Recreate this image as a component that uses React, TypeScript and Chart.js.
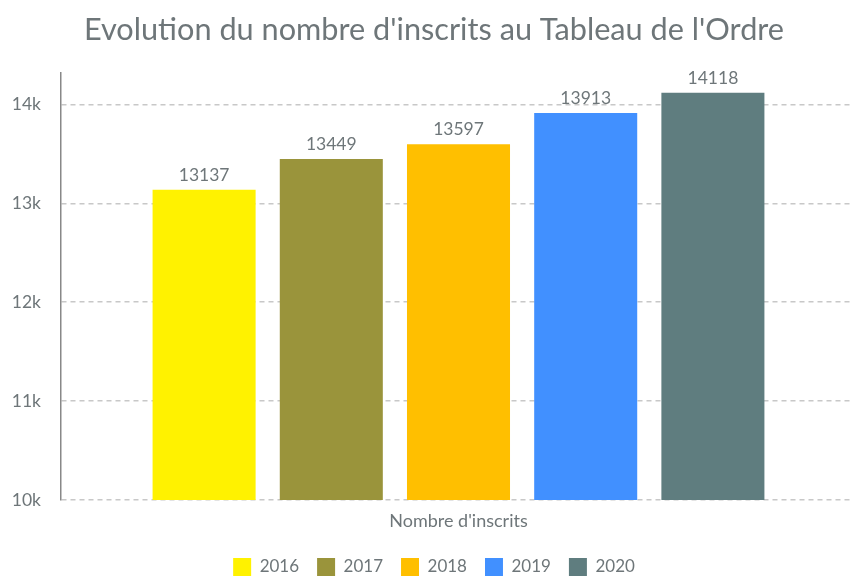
import React, { useEffect, useRef } from "react";
import { Chart, registerables } from "chart.js";

Chart.register(...registerables);

const categories = ["Nombre d'inscrits"];
const years = ["2016", "2017", "2018", "2019", "2020"];
const values = [13137, 13449, 13597, 13913, 14118];
const colors = ["#FFF200", "#9A943B", "#FFBF00", "#4190FF", "#5F7D7F"];
const yTicks = [10000, 11000, 12000, 13000, 14000];
const titleText = "Evolution du nombre d'inscrits au Tableau de l'Ordre";

const TEXT = "#6e7679";
const FONT = "Lato";

const valueLabels = {
  id: "valueLabels",
  afterDatasetsDraw(chart: any) {
    const ctx = chart.ctx;
    ctx.save();
    ctx.font = `17.5px ${FONT}`;
    ctx.fillStyle = TEXT;
    ctx.textAlign = "center";
    ctx.textBaseline = "alphabetic";
    chart.data.datasets.forEach((ds: any, i: number) => {
      const meta = chart.getDatasetMeta(i);
      meta.data.forEach((bar: any, j: number) => {
        ctx.fillText(String(ds.data[j]), bar.x, bar.y - 9);
      });
    });
    ctx.restore();
  },
};

export default function App() {
  const ref = useRef<HTMLCanvasElement>(null);
  useEffect(() => {
    document.body.style.overflow = "hidden";
    const chart = new Chart(ref.current!, {
      type: "bar",
      data: {
        labels: categories,
        datasets: years.map((y, i) => ({
          label: y,
          data: [values[i]],
          backgroundColor: colors[i],
          borderWidth: 0,
          barPercentage: 0.81,
          categoryPercentage: 0.8,
        })),
      },
      options: {
        responsive: false,
        animation: false,
        layout: { padding: { left: 12, right: 10, top: 8, bottom: 0 } },
        plugins: {
          title: {
            display: true,
            text: titleText,
            color: TEXT,
            font: { family: FONT, size: 30.7, weight: "normal" },
            padding: { top: 4, bottom: 24 },
          },
          legend: {
            position: "bottom",
            labels: {
              color: TEXT,
              font: { family: FONT, size: 17 },
              boxWidth: 18,
              boxHeight: 18,
              padding: 18,
            },
          },
          tooltip: { enabled: false },
        },
        scales: {
          x: {
            grid: { display: false, drawTicks: false },
            border: { display: false },
            ticks: { color: TEXT, font: { family: FONT, size: 18 }, padding: 10 },
            afterFit: (scale: any) => {
              scale.height = 40;
            },
          },
          y: {
            min: 10000,
            max: 14320,
            afterBuildTicks: (scale: any) => {
              scale.ticks = yTicks.map((v) => ({ value: v }));
            },
            afterFit: (scale: any) => {
              scale.width = 49;
            },
            ticks: {
              color: TEXT,
              font: { family: FONT, size: 17.5 },
              padding: 20,
              callback: (v: any) => v / 1000 + "k",
            },
            grid: { color: "#c8c8c8", lineWidth: 1.5, drawTicks: false },
            border: { display: true, color: "#888", width: 1.5, dash: [5, 4] as any },
          },
        },
      },
      plugins: [valueLabels],
    });
    return () => chart.destroy();
  }, []);
  return (
    <div style={{ position: "fixed", left: 0, top: 0, width: 866, height: 586 }}>
      <canvas ref={ref} width={866} height={586} />
    </div>
  );
}
